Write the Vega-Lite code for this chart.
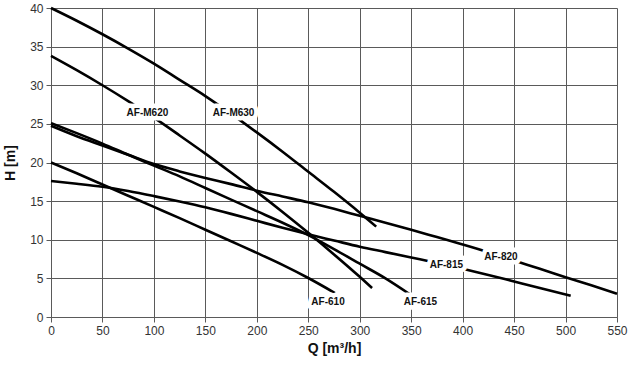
{
  "$schema": "https://vega.github.io/schema/vega-lite/v6.json",
  "width": 566,
  "height": 309,
  "autosize": {"type": "none"},
  "padding": {"left": 51, "top": 8, "right": 23, "bottom": 48},
  "background": "white",
  "config": {
    "view": {"stroke": null},
    "font": "Liberation Sans",
    "axis": {
      "zindex": 0,
      "grid": true,
      "gridColor": "#5a5a5a",
      "gridWidth": 1,
      "gridOpacity": 1,
      "domainColor": "#5a5a5a",
      "tickColor": "#5a5a5a",
      "tickSize": 5,
      "labelFont": "Liberation Sans",
      "labelFontSize": 12,
      "labelColor": "#333333",
      "titleFont": "Liberation Sans",
      "titleFontSize": 14,
      "titleFontWeight": "bold",
      "titleColor": "#111111"
    }
  },
  "datasets": {
    "curves": [
      {"s": "AF-M630", "q": 0, "h": 40.0},
      {"s": "AF-M630", "q": 25, "h": 38.35},
      {"s": "AF-M630", "q": 50, "h": 36.6},
      {"s": "AF-M630", "q": 75, "h": 34.75},
      {"s": "AF-M630", "q": 100, "h": 32.8},
      {"s": "AF-M630", "q": 125, "h": 30.7},
      {"s": "AF-M630", "q": 150, "h": 28.6},
      {"s": "AF-M630", "q": 175, "h": 26.3},
      {"s": "AF-M630", "q": 200, "h": 23.9},
      {"s": "AF-M630", "q": 225, "h": 21.4},
      {"s": "AF-M630", "q": 250, "h": 18.8},
      {"s": "AF-M630", "q": 275, "h": 16.2},
      {"s": "AF-M630", "q": 300, "h": 13.5},
      {"s": "AF-M630", "q": 316, "h": 11.7},
      {"s": "AF-M620", "q": 0, "h": 33.8},
      {"s": "AF-M620", "q": 25, "h": 31.95},
      {"s": "AF-M620", "q": 50, "h": 30.0},
      {"s": "AF-M620", "q": 75, "h": 27.95},
      {"s": "AF-M620", "q": 100, "h": 25.8},
      {"s": "AF-M620", "q": 125, "h": 23.5},
      {"s": "AF-M620", "q": 150, "h": 21.15},
      {"s": "AF-M620", "q": 175, "h": 18.7},
      {"s": "AF-M620", "q": 200, "h": 16.2},
      {"s": "AF-M620", "q": 225, "h": 13.6},
      {"s": "AF-M620", "q": 250, "h": 10.9},
      {"s": "AF-M620", "q": 275, "h": 8.1},
      {"s": "AF-M620", "q": 300, "h": 5.2},
      {"s": "AF-M620", "q": 312, "h": 3.75},
      {"s": "AF-615", "q": 0, "h": 25.1},
      {"s": "AF-615", "q": 25, "h": 23.8},
      {"s": "AF-615", "q": 50, "h": 22.45},
      {"s": "AF-615", "q": 75, "h": 21.0},
      {"s": "AF-615", "q": 100, "h": 19.6},
      {"s": "AF-615", "q": 125, "h": 18.2},
      {"s": "AF-615", "q": 150, "h": 16.7},
      {"s": "AF-615", "q": 175, "h": 15.2},
      {"s": "AF-615", "q": 200, "h": 13.7},
      {"s": "AF-615", "q": 225, "h": 12.2},
      {"s": "AF-615", "q": 250, "h": 10.6},
      {"s": "AF-615", "q": 275, "h": 8.8},
      {"s": "AF-615", "q": 300, "h": 6.9},
      {"s": "AF-615", "q": 325, "h": 5.0},
      {"s": "AF-615", "q": 348, "h": 3.0},
      {"s": "AF-820", "q": 0, "h": 24.75},
      {"s": "AF-820", "q": 25, "h": 23.4},
      {"s": "AF-820", "q": 50, "h": 22.2},
      {"s": "AF-820", "q": 75, "h": 21.0},
      {"s": "AF-820", "q": 100, "h": 19.8},
      {"s": "AF-820", "q": 125, "h": 18.85},
      {"s": "AF-820", "q": 150, "h": 18.0},
      {"s": "AF-820", "q": 175, "h": 17.2},
      {"s": "AF-820", "q": 200, "h": 16.35},
      {"s": "AF-820", "q": 225, "h": 15.6},
      {"s": "AF-820", "q": 250, "h": 14.85},
      {"s": "AF-820", "q": 275, "h": 14.0},
      {"s": "AF-820", "q": 300, "h": 13.1},
      {"s": "AF-820", "q": 325, "h": 12.2},
      {"s": "AF-820", "q": 350, "h": 11.3},
      {"s": "AF-820", "q": 375, "h": 10.35},
      {"s": "AF-820", "q": 400, "h": 9.4},
      {"s": "AF-820", "q": 425, "h": 8.4},
      {"s": "AF-820", "q": 450, "h": 7.3},
      {"s": "AF-820", "q": 475, "h": 6.25},
      {"s": "AF-820", "q": 500, "h": 5.15},
      {"s": "AF-820", "q": 525, "h": 4.1},
      {"s": "AF-820", "q": 550, "h": 3.0},
      {"s": "AF-610", "q": 0, "h": 20.0},
      {"s": "AF-610", "q": 25, "h": 18.6},
      {"s": "AF-610", "q": 50, "h": 17.15},
      {"s": "AF-610", "q": 75, "h": 15.7},
      {"s": "AF-610", "q": 100, "h": 14.25},
      {"s": "AF-610", "q": 125, "h": 12.8},
      {"s": "AF-610", "q": 150, "h": 11.3},
      {"s": "AF-610", "q": 175, "h": 9.8},
      {"s": "AF-610", "q": 200, "h": 8.3},
      {"s": "AF-610", "q": 225, "h": 6.75},
      {"s": "AF-610", "q": 250, "h": 5.05},
      {"s": "AF-610", "q": 276, "h": 3.1},
      {"s": "AF-815", "q": 0, "h": 17.6},
      {"s": "AF-815", "q": 25, "h": 17.25},
      {"s": "AF-815", "q": 50, "h": 16.85},
      {"s": "AF-815", "q": 75, "h": 16.3},
      {"s": "AF-815", "q": 100, "h": 15.65},
      {"s": "AF-815", "q": 125, "h": 14.95},
      {"s": "AF-815", "q": 150, "h": 14.2},
      {"s": "AF-815", "q": 175, "h": 13.35},
      {"s": "AF-815", "q": 200, "h": 12.45},
      {"s": "AF-815", "q": 225, "h": 11.55},
      {"s": "AF-815", "q": 250, "h": 10.7},
      {"s": "AF-815", "q": 275, "h": 9.9},
      {"s": "AF-815", "q": 300, "h": 9.1},
      {"s": "AF-815", "q": 325, "h": 8.4},
      {"s": "AF-815", "q": 350, "h": 7.7},
      {"s": "AF-815", "q": 375, "h": 7.0},
      {"s": "AF-815", "q": 400, "h": 6.25},
      {"s": "AF-815", "q": 425, "h": 5.45},
      {"s": "AF-815", "q": 450, "h": 4.6},
      {"s": "AF-815", "q": 475, "h": 3.75},
      {"s": "AF-815", "q": 505, "h": 2.75}
    ],
    "labels": [
      {"label": "AF-M620", "q": 93.7, "h": 26.4},
      {"label": "AF-M630", "q": 177.4, "h": 26.4},
      {"label": "AF-610", "q": 269.2, "h": 1.9},
      {"label": "AF-615", "q": 359, "h": 1.9},
      {"label": "AF-815", "q": 384.2, "h": 6.77},
      {"label": "AF-820", "q": 437.2, "h": 7.71}
    ]
  },
  "encoding": {
    "x": {
      "field": "q", "type": "quantitative",
      "scale": {"domain": [0, 550], "nice": false},
      "axis": {"values": [0,50,100,150,200,250,300,350,400,450,500,550], "title": "Q [m³/h]", "labelPadding": 3, "titlePadding": 5, "labelFlush": false}
    },
    "y": {
      "field": "h", "type": "quantitative",
      "scale": {"domain": [0, 40], "nice": false},
      "axis": {"values": [0,5,10,15,20,25,30,35,40], "title": "H [m]", "labelPadding": 3, "titlePadding": 12, "labelFlush": false, "labelOverlap": false}
    }
  },
  "layer": [
    {
      "data": {"name": "curves"},
      "mark": {"type": "line", "color": "#000000", "strokeWidth": 2.6, "interpolate": "monotone"},
      "encoding": {
        "detail": {"field": "s"}
      }
    },
    {
      "data": {"name": "labels"},
      "mark": {"type": "text", "font": "Liberation Sans", "fontSize": 10, "fontWeight": "bold", "color": "white", "stroke": "white", "strokeWidth": 9, "strokeJoin": "round", "baseline": "middle", "align": "center"},
      "encoding": {
        "text": {"field": "label"}
      }
    },
    {
      "data": {"name": "labels"},
      "mark": {"type": "text", "font": "Liberation Sans", "fontSize": 10, "fontWeight": "bold", "color": "#111111", "baseline": "middle", "align": "center"},
      "encoding": {
        "text": {"field": "label"}
      }
    }
  ]
}
